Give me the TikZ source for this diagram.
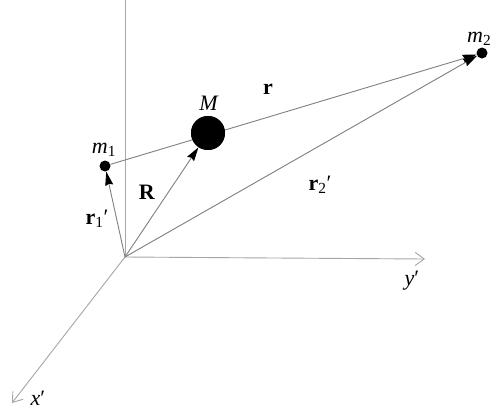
\documentclass[tikz,border=0pt]{standalone}
\usepackage{fontspec}
\setmainfont{Liberation Serif}
\usetikzlibrary{arrows.meta}
\newcommand{\pr}{\char"2032}
\begin{document}
\begin{tikzpicture}[x=1pt,y=-1pt,
  axis/.style={draw=black!35, line width=0.9pt, -{Straight Barb[length=9pt,width=13pt,line width=0.9pt]}},
  vec/.style={draw=black!50, line width=0.9pt, -{Stealth[length=14pt,width=8pt,inset=1.5pt,color=black,fill=black]}},
  dot/.style={circle, fill=black, inner sep=0pt, minimum size=#1},
  lab/.style={font=\fontsize{22}{22}\selectfont, inner sep=0pt}]
\useasboundingbox (0,0) rectangle (490,413);
\fill[white] (0,0) rectangle (490,413);
% nodes
\coordinate (O) at (125,257);
\coordinate (ztop) at (125,0);
\coordinate (yend) at (425,259);
\coordinate (xend) at (12,403);
\node[dot=11pt] (m1) at (105,166) {};
\node[dot=34pt] (M) at (208,133) {};
\node[dot=11pt] (m2) at (482,53) {};
% axes
\draw[draw=black!35, line width=0.9pt] (O) -- (ztop);
\draw[axis] (O) -- (yend);
\draw[axis] (O) -- (xend);
% vectors
\draw[vec] (m1) -- (m2);
\draw[vec] (O) -- (m1);
\draw[vec] (O) -- (M);
\draw[vec] (O) -- (m2);
\node[dot=34pt] at (M) {};
% labels
\node[lab] (lm1) at (104,150) {\textit{m}\textsubscript{1}};
\node[lab] (lM) at (209,103) {\textit{M}};
\node[lab, anchor=base west] (lm2) at (467,42) {\textit{m}\textsubscript{2}};
\node[lab] (lr) at (268,89) {\textbf{r}};
\node[lab] (lR) at (147,192) {\textbf{R}};
\node[lab] (lr1) at (97,219) {\textbf{r}\textsubscript{1}\pr};
\node[lab] (lr2) at (320,185) {\textbf{r}\textsubscript{2}\pr};
\node[lab] (ly) at (412,281) {\textit{y}\pr};
\node[lab] (lx) at (38,398) {\textit{x}\pr};
\end{tikzpicture}
\end{document}
